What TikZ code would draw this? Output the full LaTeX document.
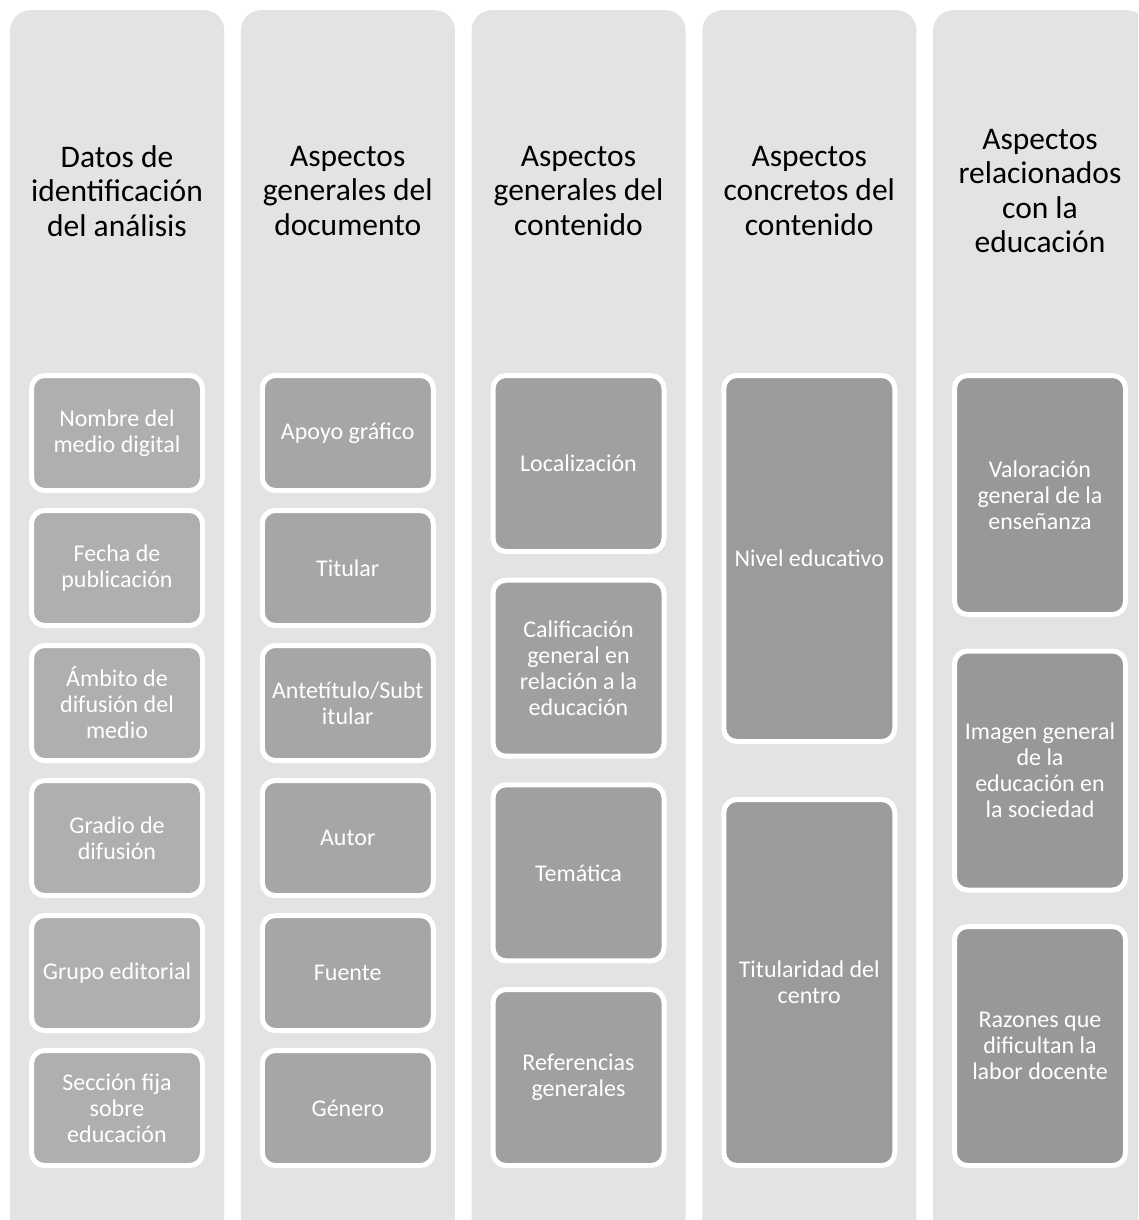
\documentclass[tikz,border=0pt]{standalone}
\usepackage{fontspec}
\setmainfont{Carlito}
\definecolor{colbg}{HTML}{E3E3E3}
\definecolor{bxa}{HTML}{AFAFAF}
\definecolor{bxb}{HTML}{A6A6A6}
\definecolor{bxc}{HTML}{A0A0A0}
\definecolor{bxd}{HTML}{9B9B9B}
\definecolor{bxe}{HTML}{989898}
\begin{document}
\begin{tikzpicture}[x=1pt,y=-1pt,
  colbox/.style={fill=colbg, draw=none, rounded corners=20pt, minimum width=214pt, minimum height=1230pt, anchor=north west, inner sep=0pt},
  item/.style={draw=white, line width=5pt, rounded corners=13pt, text=white, align=center, inner sep=0pt, font=\fontsize{24}{26}\selectfont, minimum width=171pt},
  smallitem/.style={item, minimum height=115pt},
  miditem/.style={item, minimum height=176pt},
  bigitem/.style={item, minimum height=366pt},
  largeitem/.style={item, minimum height=239pt},
  header/.style={align=center, inner sep=0pt, text=black, font=\fontsize{31.5}{34.5}\selectfont}
]
\useasboundingbox (0,0) rectangle (1138,1220);
\begin{scope}
\clip (0,0) rectangle (1138,1220);
\node[colbox] (c1) at (10,10) {};
\node[colbox] (c2) at (240.75,10) {};
\node[colbox] (c3) at (471.5,10) {};
\node[colbox] (c4) at (702.25,10) {};
\node[colbox] (c5) at (933,10) {};
\end{scope}

% headers
\node[header] (h1) at (117,191) {Datos de\\identificación\\del análisis};
\node[header] (h2) at (347.75,191) {Aspectos\\generales del\\documento};
\node[header] (h3) at (578.5,191) {Aspectos\\generales del\\contenido};
\node[header] (h4) at (809.25,191) {Aspectos\\concretos del\\contenido};
\node[header] (h5) at (1040,191) {Aspectos\\relacionados\\con la\\educación};

% column 1
\node[smallitem, fill=bxa] (a1) at (117,433) {Nombre del\\medio digital};
\node[smallitem, fill=bxa] (a2) at (117,568) {Fecha de\\publicación};
\node[smallitem, fill=bxa] (a3) at (117,703) {Ámbito de\\difusión del\\medio};
\node[smallitem, fill=bxa] (a4) at (117,838) {Gradio de\\difusión};
\node[smallitem, fill=bxa] (a5) at (117,973) {Grupo editorial};
\node[smallitem, fill=bxa] (a6) at (117,1108) {Sección fija\\sobre\\educación};

% column 2
\node[smallitem, fill=bxb] (b1) at (347.75,433) {Apoyo gráfico};
\node[smallitem, fill=bxb] (b2) at (347.75,568) {Titular};
\node[smallitem, fill=bxb] (b3) at (347.75,703) {Antetítulo/Subt\\itular};
\node[smallitem, fill=bxb] (b4) at (347.75,838) {Autor};
\node[smallitem, fill=bxb] (b5) at (347.75,973) {Fuente};
\node[smallitem, fill=bxb] (b6) at (347.75,1108) {Género};

% column 3
\node[miditem, fill=bxc] (d1) at (578.5,463.5) {Localización};
\node[miditem, fill=bxc] (d2) at (578.5,668.2) {Calificación\\general en\\relación a la\\educación};
\node[miditem, fill=bxc] (d3) at (578.5,872.8) {Temática};
\node[miditem, fill=bxc] (d4) at (578.5,1077.5) {Referencias\\generales};

% column 4
\node[bigitem, fill=bxd] (e1) at (809.25,558.5) {Nivel educativo};
\node[bigitem, fill=bxd] (e2) at (809.25,982.5) {Titularidad del\\centro};

% column 5
\node[largeitem, fill=bxe] (f1) at (1040,495) {Valoración\\general de la\\enseñanza};
\node[largeitem, fill=bxe] (f2) at (1040,770.5) {Imagen general\\de la\\educación en\\la sociedad};
\node[largeitem, fill=bxe] (f3) at (1040,1046) {Razones que\\dificultan la\\labor docente};
\end{tikzpicture}
\end{document}
